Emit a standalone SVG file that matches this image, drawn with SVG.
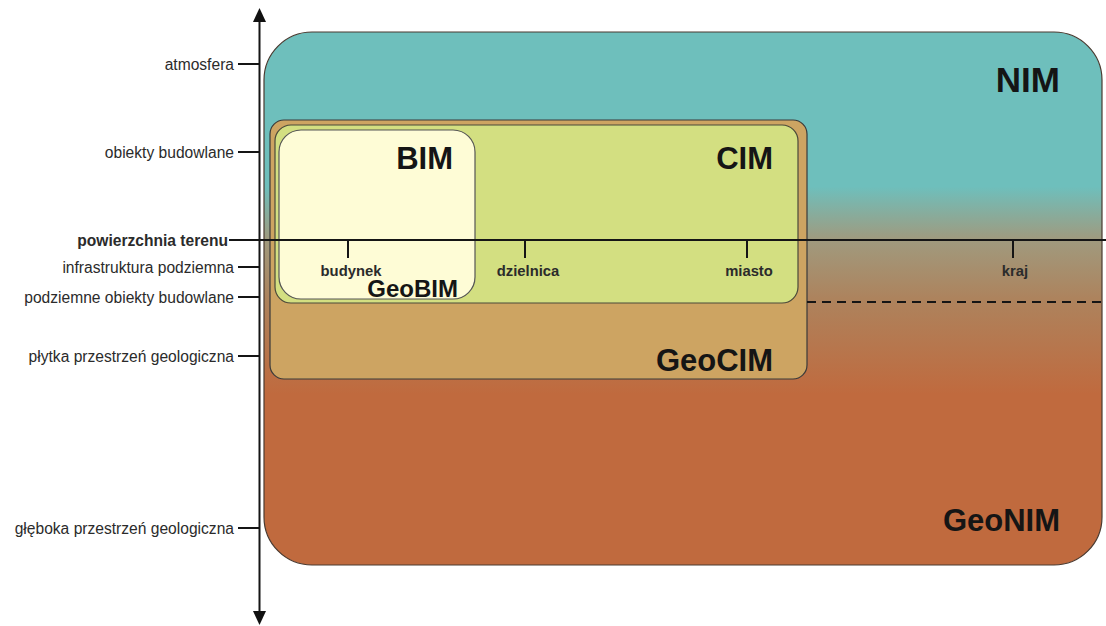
<svg xmlns="http://www.w3.org/2000/svg" width="1106" height="626" viewBox="0 0 1106 626">
<style>
.lbl{font-family:"Liberation Sans",Arial,sans-serif;font-size:15.6px;fill:#2b2b2b;text-anchor:end}
.tick{font-family:"Liberation Sans",Arial,sans-serif;font-size:14.8px;font-weight:bold;fill:#2b2b2b;text-anchor:middle}
.big{font-family:"Liberation Sans",Arial,sans-serif;font-weight:bold;fill:#151515;text-anchor:end}
.ln{stroke:#151515;stroke-width:2;fill:none}
.ah{fill:#111}
</style>
<defs>
<linearGradient id="gNIM" gradientUnits="userSpaceOnUse" x1="0" y1="32" x2="0" y2="565">
<stop offset="0" stop-color="#6ebfbc"/>
<stop offset="0.29" stop-color="#6ebfbc"/>
<stop offset="0.39" stop-color="#a09a7e"/>
<stop offset="0.5" stop-color="#ad835d"/>
<stop offset="0.68" stop-color="#c06a3e"/>
<stop offset="1" stop-color="#c06a3e"/>
</linearGradient>
</defs>
<g id="NIM">
<rect x="264" y="32" width="838" height="533" rx="48" fill="url(#gNIM)" stroke="#4a3a30" stroke-width="1.2"/>
<text class="big" x="1060" y="92" font-size="35">NIM</text>
<text class="big" x="1060" y="531" font-size="31">GeoNIM</text>
</g>
<g id="GeoCIM">
<rect x="270" y="120" width="537" height="259" rx="14" fill="#cda462" stroke="#3a3a3a" stroke-width="1.2"/>
<text class="big" x="773" y="371" font-size="31">GeoCIM</text>
</g>
<g id="CIM">
<rect x="275" y="125" width="523" height="178" rx="16" fill="#d3df81" stroke="#4a4a3a" stroke-width="1.2"/>
<text class="big" x="773" y="169" font-size="31">CIM</text>
</g>
<g id="BIM">
<rect x="279" y="130" width="196" height="169" rx="22" fill="#fefcd6" stroke="#555" stroke-width="1.2"/>
<text class="big" x="453" y="169" font-size="31">BIM</text>
<text class="big" x="458" y="297" font-size="24">GeoBIM</text>
</g>
<g id="connectors">
<line class="ln" x1="259.5" y1="18" x2="259.5" y2="614" stroke-width="2.5"/>
<polygon class="ah" points="259.5,8 253,22 266,22"/>
<polygon class="ah" points="259.5,625 253,611 266,611"/>
<line class="ln" x1="229" y1="240" x2="1106" y2="240"/>
<line class="ln" x1="348" y1="240" x2="348" y2="258"/>
<line class="ln" x1="525" y1="240" x2="525" y2="258"/>
<line class="ln" x1="747" y1="240" x2="747" y2="258"/>
<line class="ln" x1="1013" y1="240" x2="1013" y2="258"/>
<line class="ln" x1="807" y1="302" x2="1102" y2="302" stroke-dasharray="9,6"/>
<line class="ln" x1="238" y1="64" x2="259" y2="64"/>
<line class="ln" x1="238" y1="152" x2="259" y2="152"/>
<line class="ln" x1="238" y1="267" x2="259" y2="267"/>
<line class="ln" x1="238" y1="297" x2="259" y2="297"/>
<line class="ln" x1="238" y1="356" x2="259" y2="356"/>
<line class="ln" x1="238" y1="528" x2="259" y2="528"/>
</g>
<g id="axis-labels">
<text class="lbl" x="234" y="69.5">atmosfera</text>
<text class="lbl" x="234" y="157.5">obiekty budowlane</text>
<text class="lbl" x="228" y="245.5" font-weight="bold">powierzchnia terenu</text>
<text class="lbl" x="234" y="272.5">infrastruktura podziemna</text>
<text class="lbl" x="234" y="302.5">podziemne obiekty budowlane</text>
<text class="lbl" x="234" y="361.5">płytka przestrzeń geologiczna</text>
<text class="lbl" x="234" y="533.5">głęboka przestrzeń geologiczna</text>
</g>
<g id="scale-labels">
<text class="tick" x="351" y="276">budynek</text>
<text class="tick" x="528" y="276">dzielnica</text>
<text class="tick" x="749" y="276">miasto</text>
<text class="tick" x="1015" y="276">kraj</text>
</g>
</svg>
